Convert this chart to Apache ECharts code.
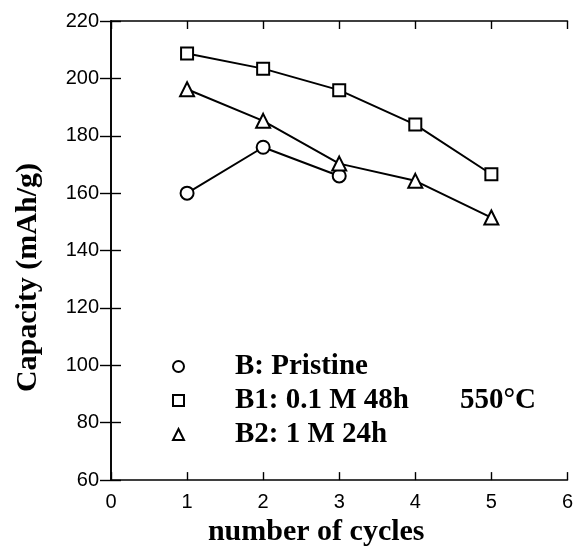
<!DOCTYPE html>
<html>
<head>
<meta charset="utf-8">
<script src="https://cdn.jsdelivr.net/npm/echarts@6/dist/echarts.min.js"></script>
<style>
  html, body { margin: 0; padding: 0; background: #fff; }
  #chart { width: 576px; height: 552px; }
</style>
</head>
<body>
<div id="chart"></div>
<script>
// Discharge capacity over the first cycles for three samples
const cycles = [1, 2, 3, 4, 5];
const pristine = [160, 176, 166];             // B: Pristine
const b1 = [208.7, 203.4, 195.9, 183.9, 166.6]; // B1: 0.1 M 48h
const b2 = [196.2, 185.2, 170.3, 164.3, 151.5]; // B2: 1 M 24h
const seriesNames = ['B: Pristine', 'B1: 0.1 M 48h', 'B2: 1 M 24h'];
const seriesSymbols = ['emptyCircle', 'emptyRect', 'emptyTriangle'];
const annealNote = '550°C';

const pairs = (xs, ys) => ys.map((v, i) => [xs[i], v]);

const serifBold = { fontFamily: 'Liberation Serif', fontWeight: 'bold', color: '#000' };
const axisLine = { show: true, lineStyle: { color: '#000', width: 1.6 } };

function mkSeries(name, sym, size, data) {
  return {
    name: name,
    type: 'line',
    data: data,
    symbol: sym,
    symbolSize: size,
    lineStyle: { color: '#000', width: 2 },
    itemStyle: { color: '#000', borderColor: '#000', borderWidth: 1.8 },
    emphasis: { disabled: true },
    animation: false,
    z: 3
  };
}

const chart = echarts.init(document.getElementById('chart'), null, { renderer: 'canvas' });
chart.setOption({
  backgroundColor: '#fff',
  animation: false,
  grid: { left: 111, right: 7, top: 21, bottom: 71 },
  xAxis: [{
    type: 'value', min: 0, max: 6, interval: 1,
    name: 'number of cycles', nameLocation: 'middle', nameGap: 34,
    nameTextStyle: Object.assign({ fontSize: 30, padding: [0, 46, 0, 0] }, serifBold),
    axisLine: axisLine,
    axisTick: { inside: true, length: 8, lineStyle: { color: '#000', width: 1.4 } },
    axisLabel: { margin: 12, fontSize: 20, fontFamily: 'Liberation Sans', color: '#000' },
    splitLine: { show: false }
  }, {
    type: 'value', min: 0, max: 6, interval: 1, position: 'top',
    axisLine: axisLine,
    axisTick: { inside: true, length: 8, lineStyle: { color: '#000', width: 1.4 } },
    axisLabel: { show: false },
    splitLine: { show: false }
  }],
  yAxis: [{
    type: 'value', min: 60, max: 220, interval: 20,
    name: 'Capacity (mAh/g)', nameLocation: 'middle', nameGap: 68,
    nameTextStyle: Object.assign({ fontSize: 30, padding: [0, 54, 0, 0] }, serifBold),
    axisLine: axisLine,
    axisTick: { inside: true, length: 10, lineStyle: { color: '#000', width: 1.4 } },
    axisLabel: { margin: 12, fontSize: 20, fontFamily: 'Liberation Sans', color: '#000' },
    splitLine: { show: false }
  }, {
    type: 'value', min: 60, max: 220, interval: 20, position: 'right',
    axisLine: axisLine,
    axisTick: { inside: true, length: 11, lineStyle: { color: '#000', width: 1.4 } },
    axisLabel: { show: false },
    splitLine: { show: false }
  }],
  legend: {
    orient: 'vertical',
    left: 167, top: 347,
    itemWidth: 11, itemHeight: 11, itemGap: 5,
    selectedMode: false,
    data: seriesNames.map((n, i) => ({ name: n, icon: seriesSymbols[i] })),
    itemStyle: { borderWidth: 1.4 },
    formatter: function (name) {
      return name === seriesNames[1] ? name + '{sp|}' + annealNote : name;
    },
    textStyle: Object.assign({
      fontSize: 29, padding: [0, 0, 0, 46], lineHeight: 29,
      rich: { sp: { width: 51 } }
    }, serifBold)
  },
  series: [
    mkSeries(seriesNames[0], seriesSymbols[0], 13, pairs(cycles, pristine)),
    mkSeries(seriesNames[1], seriesSymbols[1], 12, pairs(cycles, b1)),
    mkSeries(seriesNames[2], seriesSymbols[2], 14, pairs(cycles, b2))
  ]
});
</script>
</body>
</html>
